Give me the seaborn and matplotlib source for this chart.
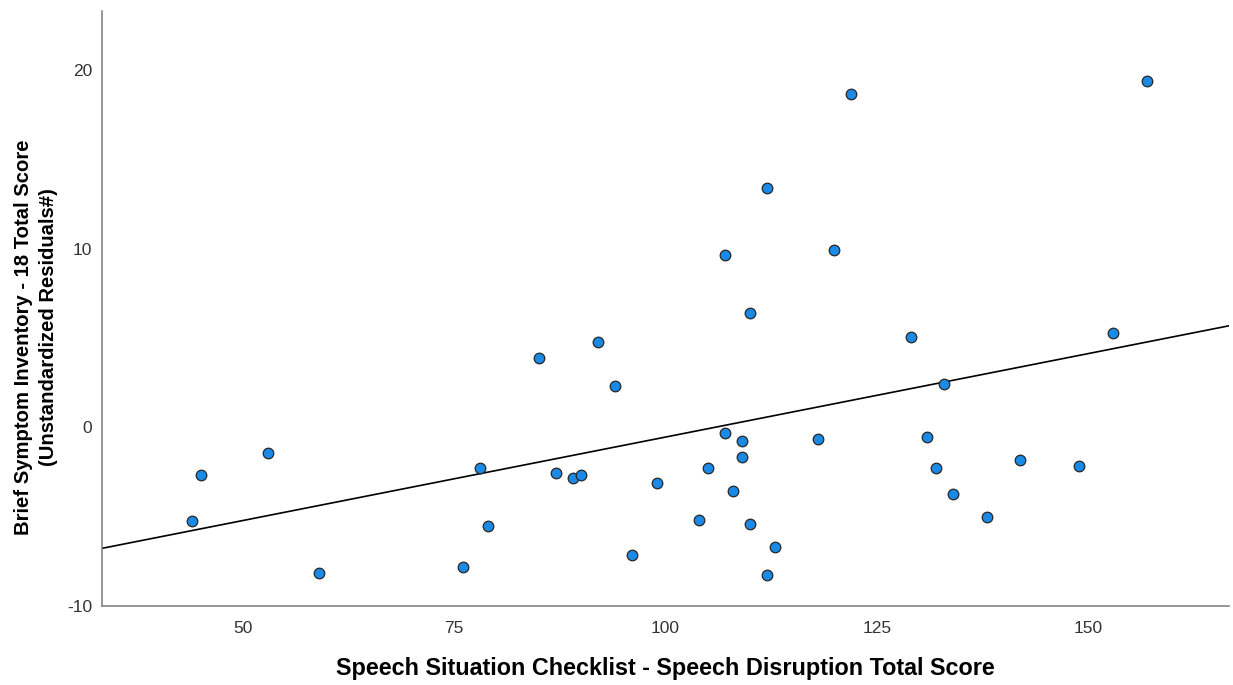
import matplotlib
matplotlib.use("Agg")
import matplotlib.pyplot as plt
import seaborn as sns
import numpy as np
import pandas as pd

# Speech Situation Checklist - Speech Disruption Total Score
ssc_disruption = [44, 45, 53, 59, 76, 78, 79, 85, 87, 89, 90, 92, 94, 96, 99,
                  104, 105, 107, 107, 108, 109, 109, 110, 110, 112, 112, 113,
                  118, 120, 122, 129, 131, 132, 133, 134, 138, 142, 149, 153, 157]

# BSI-18 total score, unstandardized residuals
bsi_residuals = [-5.22, -2.65, -1.44, -8.14, -7.79, -2.25, -5.53, 3.90, -2.54,
                 -2.81, -2.66, 4.79, 2.33, -7.16, -3.09, -5.20, -2.29, 9.65,
                 -0.30, -3.54, -0.78, -1.68, 6.42, -5.40, 13.42, -8.27, -6.69,
                 -0.66, 9.93, 18.66, 5.07, -0.54, -2.27, 2.45, -3.75, -5.03,
                 -1.83, -2.15, 5.29, 19.40]

x_ticks = [50, 75, 100, 125, 150]
y_ticks = [-10, 0, 10, 20]

x_label = "Speech Situation Checklist - Speech Disruption Total Score"
y_label_lines = ["Brief Symptom Inventory - 18 Total Score",
                 "(Unstandardized Residuals#)"]

df = pd.DataFrame({"ssc": ssc_disruption, "bsi": bsi_residuals})

sns.set_theme(style="white")
plt.rcParams["font.family"] = ["Liberation Sans", "DejaVu Sans"]
plt.rcParams["axes.unicode_minus"] = False

fig = plt.figure(figsize=(12.33, 6.85), dpi=100)
ax = fig.add_axes([102 / 1233, 79 / 685, 1127 / 1233, 595 / 685])

ax.set_xlim(33.3, 166.7)
ax.set_ylim(-10, 23.3)

# fit line spans the full x range of the axes
sns.regplot(data=df, x="ssc", y="bsi", ax=ax, scatter=False, ci=None,
            truncate=False, line_kws={"color": "black", "linewidth": 1.2})

sns.scatterplot(data=df, x="ssc", y="bsi", ax=ax, s=58, color="#1a8ae6",
                edgecolor="#262626", linewidth=0.9, zorder=3)

ax.set_xticks(x_ticks)
ax.set_yticks(y_ticks)
ax.tick_params(axis="both", length=0, labelsize=12.5, labelcolor="#333333")
ax.tick_params(axis="x", pad=11)
ax.tick_params(axis="y", pad=7)

for side in ("top", "right"):
    ax.spines[side].set_visible(False)
for side in ("left", "bottom"):
    ax.spines[side].set_color("#7a7a7a")
    ax.spines[side].set_linewidth(1.1)

ax.set_xlabel("")
ax.set_ylabel("")
fig.text(665 / 1233, 1 - 668 / 685, x_label, ha="center", va="center",
         fontsize=16.8, fontweight="bold", color="black")
fig.text(24 / 1233, 1 - 337 / 685, y_label_lines[0], ha="center", va="center",
         rotation=90, fontsize=14.6, fontweight="bold", color="black")
fig.text(49 / 1233, 1 - 327 / 685, y_label_lines[1], ha="center", va="center",
         rotation=90, fontsize=14.6, fontweight="bold", color="black")

fig.savefig("out.png", dpi=100, facecolor="white")
